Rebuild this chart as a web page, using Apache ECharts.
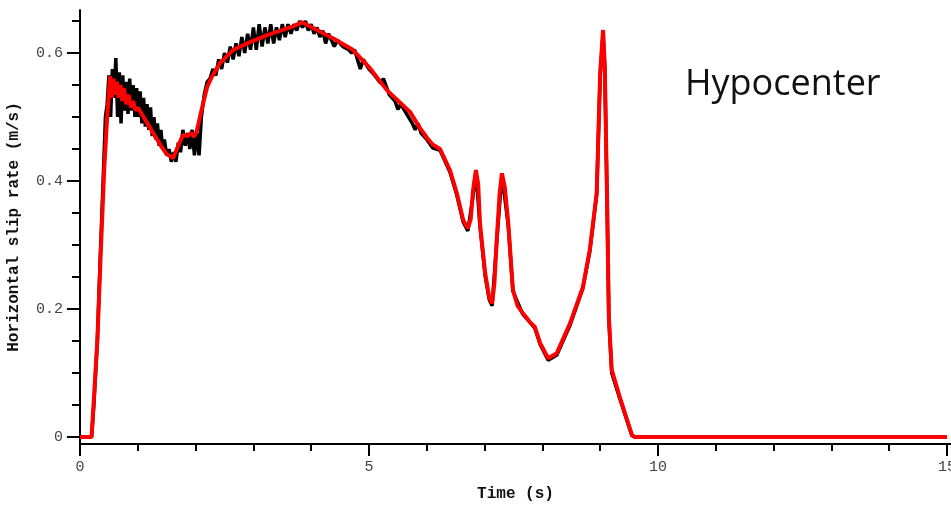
<!DOCTYPE html>
<html>
<head>
<meta charset="utf-8">
<script src="https://cdn.jsdelivr.net/npm/echarts@6/dist/echarts.min.js"></script>
<style>
html,body{margin:0;padding:0;background:#fff;}
#c{width:951px;height:505px;}
</style>
</head>
<body>
<div id="c"></div>
<script>
// Black (noisy) slip-rate trace
const blackT = [0,0.2,0.24,0.3,0.35,0.4,0.44,0.47,0.5,0.53,0.56,0.59,0.62,0.65,0.68,0.71,0.74,0.77,0.8,0.83,0.86,0.89,0.92,0.95,0.98,1.01,1.04,1.07,1.1,1.13,1.16,1.19,1.22,1.25,1.28,1.31,1.34,1.37,1.4,1.43,1.46,1.5,1.54,1.58,1.62,1.66,1.7,1.74,1.78,1.82,1.86,1.9,1.94,1.98,2.02,2.06,2.1,2.15,2.2,2.25,2.3,2.35,2.4,2.45,2.5,2.55,2.6,2.65,2.7,2.75,2.8,2.85,2.9,2.95,3.0,3.05,3.1,3.15,3.2,3.25,3.3,3.35,3.4,3.45,3.5,3.55,3.6,3.65,3.7,3.75,3.8,3.85,3.9,3.95,4.0,4.05,4.1,4.15,4.2,4.25,4.3,4.4,4.45,4.55,4.65,4.7,4.75,4.85,4.9,5.0,5.1,5.2,5.25,5.35,5.45,5.5,5.55,5.65,5.75,5.8,5.85,5.9,6.0,6.1,6.23,6.4,6.52,6.63,6.71,6.79,6.85,6.92,7.01,7.08,7.13,7.21,7.3,7.41,7.49,7.66,7.78,7.87,7.96,8.1,8.25,8.48,8.7,8.82,8.94,9.0,9.05,9.08,9.12,9.15,9.2,9.34,9.55,9.6,15];
const blackV = [0,0,0.05,0.15,0.28,0.4,0.5,0.52,0.565,0.5,0.575,0.53,0.592,0.5,0.57,0.49,0.565,0.51,0.555,0.505,0.56,0.51,0.55,0.5,0.545,0.5,0.54,0.49,0.53,0.485,0.52,0.48,0.515,0.47,0.5,0.465,0.49,0.455,0.48,0.45,0.465,0.44,0.45,0.43,0.445,0.43,0.46,0.445,0.48,0.455,0.475,0.45,0.48,0.44,0.475,0.44,0.5,0.535,0.555,0.56,0.575,0.565,0.59,0.575,0.6,0.585,0.61,0.59,0.615,0.595,0.625,0.6,0.63,0.605,0.64,0.605,0.645,0.61,0.64,0.615,0.645,0.615,0.64,0.62,0.645,0.625,0.645,0.63,0.645,0.635,0.65,0.64,0.65,0.635,0.645,0.63,0.64,0.625,0.635,0.615,0.63,0.61,0.62,0.61,0.605,0.6,0.605,0.575,0.59,0.575,0.565,0.553,0.56,0.535,0.525,0.512,0.52,0.505,0.49,0.48,0.49,0.475,0.465,0.452,0.448,0.414,0.378,0.336,0.322,0.37,0.415,0.33,0.252,0.215,0.205,0.305,0.41,0.33,0.228,0.192,0.18,0.17,0.145,0.12,0.128,0.175,0.232,0.29,0.38,0.565,0.632,0.575,0.365,0.185,0.1,0.06,0.002,0,0];

// Red (smooth) slip-rate trace
const redT = [0,0.2,0.22,0.3,0.36,0.42,0.47,0.52,0.55,0.58,0.61,0.64,0.67,0.7,0.73,0.76,0.8,0.84,0.88,0.92,0.96,1.0,1.1,1.2,1.3,1.4,1.5,1.61,1.7,1.78,1.85,1.92,1.97,2.02,2.1,2.2,2.28,2.42,2.65,2.94,3.24,3.51,3.7,3.84,3.95,4.1,4.4,4.72,5.0,5.31,5.71,5.88,6.0,6.1,6.23,6.4,6.52,6.63,6.71,6.76,6.8,6.85,6.89,6.92,7.01,7.08,7.13,7.17,7.21,7.26,7.3,7.35,7.41,7.49,7.57,7.66,7.78,7.87,7.96,8.1,8.25,8.48,8.7,8.82,8.94,9.0,9.05,9.08,9.12,9.15,9.2,9.34,9.55,9.6,15];
const redV = [0,0,0,0.15,0.29,0.42,0.5,0.564,0.53,0.56,0.535,0.555,0.53,0.55,0.525,0.545,0.52,0.535,0.515,0.525,0.51,0.515,0.5,0.485,0.47,0.455,0.442,0.436,0.455,0.472,0.47,0.475,0.469,0.478,0.51,0.547,0.5625,0.584,0.605,0.617,0.628,0.636,0.642,0.648,0.643,0.636,0.622,0.605,0.578,0.542,0.508,0.483,0.468,0.457,0.45,0.417,0.381,0.339,0.326,0.34,0.385,0.417,0.395,0.334,0.256,0.218,0.209,0.24,0.308,0.38,0.412,0.39,0.334,0.23,0.205,0.194,0.18,0.172,0.147,0.123,0.131,0.178,0.234,0.292,0.381,0.569,0.636,0.578,0.37,0.188,0.105,0.0625,0.003,0,0];

// Axis ticks / labels
const xMajor = [0,5,10,15];
const xMinor = [1,2,3,4,6,7,8,9,11,12,13,14];
const yMajor = [0,0.2,0.4,0.6];
const yMinor = [0.05,0.1,0.15,0.25,0.3,0.35,0.45,0.5,0.55,0.65];

const pair = (t, v) => t.map((x, i) => [x, v[i]]);

const mono = '"Liberation Mono","DejaVu Sans Mono",monospace';
const axisCol = '#000';
const labelStyle = {fontFamily: mono, fontSize: 15, color: '#444'};

const chart = echarts.init(document.getElementById('c'));
chart.setOption({
  animation: false,
  backgroundColor: '#fff',
  grid: {left: 80, right: 0, top: 10, bottom: 61, outerBoundsMode: 'none', containLabel: false},
  xAxis: [{
    type: 'value', min: 0, max: 15.07, position: 'bottom',
    name: 'Time (s)', nameLocation: 'middle', nameGap: 42,
    nameTextStyle: {fontFamily: mono, fontSize: 16, fontWeight: 'bold', color: '#111'},
    axisLine: {show: true, onZero: false, lineStyle: {color: axisCol, width: 2}},
    axisTick: {show: true, customValues: xMajor, length: 12, lineStyle: {color: axisCol, width: 2}},
    axisLabel: {show: true, customValues: xMajor, margin: 16, ...labelStyle, formatter: v => String(v)},
    splitLine: {show: false}
  }, {
    type: 'value', min: 0, max: 15.07, position: 'bottom',
    axisLine: {show: false, onZero: false},
    axisTick: {show: true, customValues: xMinor, length: 7, lineStyle: {color: axisCol, width: 2}},
    axisLabel: {show: false},
    splitLine: {show: false}
  }],
  yAxis: [{
    type: 'value', min: -0.0109, max: 0.6672, position: 'left',
    name: 'Horizontal slip rate (m/s)', nameLocation: 'middle', nameGap: 58, nameRotate: 90,
    nameTextStyle: {fontFamily: mono, fontSize: 16, fontWeight: 'bold', color: '#111'},
    axisLine: {show: true, onZero: false, lineStyle: {color: axisCol, width: 2}},
    axisTick: {show: true, customValues: yMajor, length: 13, lineStyle: {color: axisCol, width: 2}},
    axisLabel: {show: true, customValues: yMajor, margin: 17, ...labelStyle,
      formatter: v => (v === 0 ? '0' : v.toFixed(1))},
    splitLine: {show: false}
  }, {
    type: 'value', min: -0.0109, max: 0.6672, position: 'left',
    axisLine: {show: false, onZero: false},
    axisTick: {show: true, customValues: yMinor, length: 8, lineStyle: {color: axisCol, width: 2}},
    axisLabel: {show: false},
    splitLine: {show: false}
  }],
  graphic: [{
    type: 'text', left: 685, top: 67,
    style: {text: 'Hypocenter', fontFamily: '"Open Sans","Noto Sans",sans-serif', fontSize: 36, fill: '#111'}
  }],
  series: [{
    type: 'line', xAxisIndex: 0, yAxisIndex: 0, data: pair(blackT, blackV),
    showSymbol: false, symbol: 'none', lineStyle: {color: '#000', width: 3.5}, z: 2
  }, {
    type: 'line', xAxisIndex: 0, yAxisIndex: 0, data: pair(redT, redV),
    showSymbol: false, symbol: 'none', lineStyle: {color: '#ff0000', width: 4}, z: 3
  }]
});
</script>
</body>
</html>
